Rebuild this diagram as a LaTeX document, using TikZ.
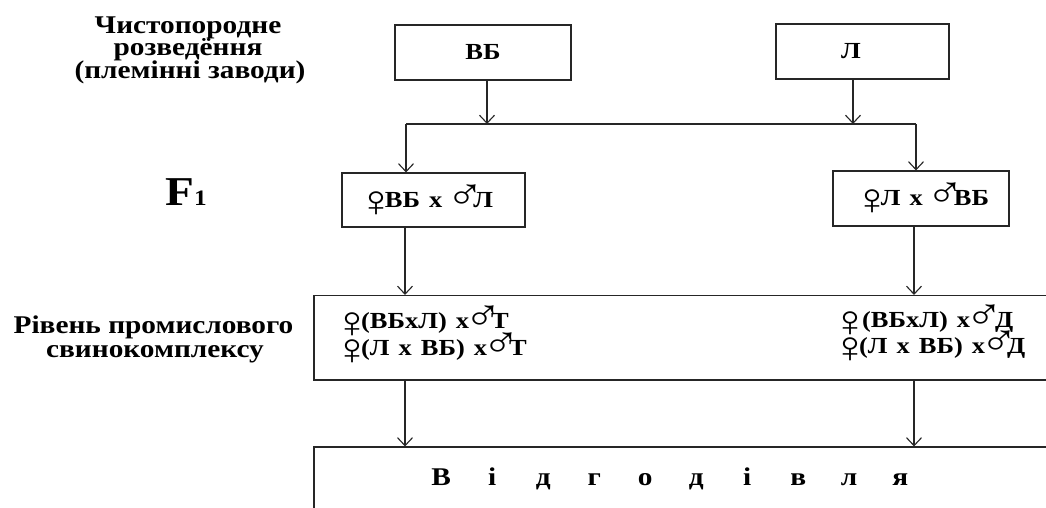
\documentclass[tikz,border=0pt]{standalone}
\usepackage{fontspec}
\setmainfont{Liberation Serif}[FakeStretch=1.15]
\usetikzlibrary{arrows.meta}
\newcommand{\symfem}{\smash{\raisebox{-9pt}{\mdseries\fontsize{44}{44}\selectfont ♀}}\kern-10pt}
\newcommand{\symmal}{\kern-5pt\smash{\raisebox{-2pt}{\mdseries\fontsize{44}{44}\selectfont ♂}}\kern-11pt}
\newcommand{\widespacing}{\spaceskip=9pt\relax}
\tikzset{
  box/.style={draw=black!85, line width=1.1pt, rectangle, inner sep=0pt},
  arr/.style={draw=black!85, line width=1.1pt, -{Straight Barb[length=8pt,width=15pt]}},
  ln/.style={draw=black!85, line width=1.1pt},
  lbl/.style={font=\bfseries\fontsize{25.5}{25.5}\selectfont, inner sep=0pt, anchor=base},
  btxt/.style={font=\bfseries\fontsize{23}{23}\selectfont\widespacing, inner sep=0pt},
}
\begin{document}
\begin{tikzpicture}[x=1pt,y=-1pt]
\useasboundingbox (0,0) rectangle (1046,508);
\fill[white] (0,0) rectangle (1046,508);
\clip (0,0) rectangle (1046,508);

% boxes
\node[box, minimum width=176pt, minimum height=55pt, btxt] (VB) at (483,52.5) {ВБ};
\node[box, minimum width=173pt, minimum height=55pt,
      label={[btxt, xshift=-11.5pt]center:Л}] (L) at (862.5,51.5) {};
\node[box, minimum width=183pt, minimum height=54pt,
      label={[btxt, xshift=-8.5pt]center:\symfem ВБ х \symmal Л}] (F1L) at (433.5,200) {};
\node[box, minimum width=176pt, minimum height=55pt,
      label={[btxt]center:\symfem Л х \symmal ВБ}] (F1R) at (921,198.5) {};
\node[box, minimum width=756pt, minimum height=84.5pt] (mid) at (692,337.75) {};
\node[box, minimum width=756pt, minimum height=93pt] (bot) at (692,493.5) {};

% texts in the middle box
\node[btxt, anchor=base west] (m1) at (333,328) {\symfem(ВБхЛ) х\symmal Т};
\node[btxt, anchor=base west] (m2) at (333,355) {\symfem(Л х ВБ) х\symmal Т};
\node[btxt, anchor=base west] (m3) at (831,327) {\symfem\kern3pt(ВБхЛ) х\symmal\kern3pt Д};
\node[btxt, anchor=base west] (m4) at (831,353) {\symfem(Л х ВБ) х\symmal Д};

% bottom text
\node[lbl, anchor=base west] (otd) at (415.5,485)
  {\makebox[51pt]{В}\makebox[51pt]{і}\makebox[51pt]{д}\makebox[51pt]{г}\makebox[51pt]{о}\makebox[51pt]{д}\makebox[51pt]{і}\makebox[51pt]{в}\makebox[51pt]{л}\makebox[51pt]{я}};

% left labels
\node[lbl] (t1) at (188,34) {Чистопородне};
\node[lbl] (t2) at (188,56) {розведёння};
\node[lbl] (t3) at (190,79) {(племінні заводи)};
\node[inner sep=0pt, anchor=base west, font=\bfseries] (f1) at (165,205)
  {{\fontsize{41}{41}\selectfont F}{\fontsize{22}{22}\selectfont 1}};
\node[lbl] (r1) at (153.5,333) {Рівень промислового};
\node[lbl] (r2) at (155,357) {свинокомплексу};

% connectors
\coordinate (busL) at (406,124);
\coordinate (busR) at (916,124);
\coordinate (xa) at (487,0);
\coordinate (xb) at (853,0);
\coordinate (xl) at (405,0);
\coordinate (xr) at (914,0);
\draw[arr] (VB.south -| xa) -- (busL -| xa);
\draw[arr] (L.south -| xb) -- (busL -| xb);
\draw[ln] (busL) -- (busR);
\draw[arr] (busL) -- (F1L.north -| busL);
\draw[arr] (busR) -- (F1R.north -| busR);
\draw[arr] (F1L.south -| xl) -- (mid.north -| xl);
\draw[arr] (F1R.south -| xr) -- (mid.north -| xr);
\draw[arr] (mid.south -| xl) -- (bot.north -| xl);
\draw[arr] (mid.south -| xr) -- (bot.north -| xr);
\end{tikzpicture}
\end{document}
